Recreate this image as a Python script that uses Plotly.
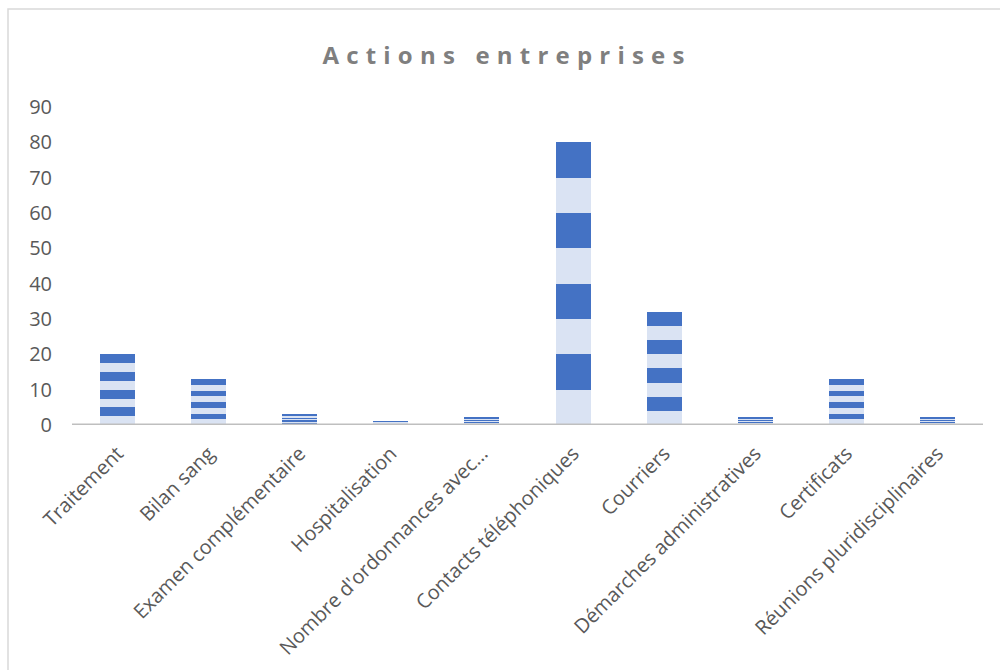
import plotly.graph_objects as go

categories = ["Traitement", "Bilan sang", "Examen complémentaire", "Hospitalisation",
              "Nombre d'ordonnances avec…", "Contacts téléphoniques", "Courriers",
              "Démarches administratives", "Certificats", "Réunions pluridisciplinaires"]
values = [20, 13, 3, 1, 2, 80, 32, 2, 13, 2]
title_text = "Actions entreprises"
y_ticks = [0, 10, 20, 30, 40, 50, 60, 70, 80, 90]

n_stripes = 8
light = "#DAE3F3"
dark = "#4472C4"

fig = go.Figure()
for k in range(n_stripes):
    fig.add_trace(go.Bar(
        x=categories,
        y=[v / n_stripes for v in values],
        marker=dict(color=light if k % 2 == 0 else dark, line=dict(width=0)),
        showlegend=False,
        hoverinfo="skip",
    ))

L, R, T, B = 72, 17, 107, 245
W, H = 1000, 670
pw = W - L - R
ph = H - T - B

def px_to_paper_x(px):
    return (px - L) / pw

def py_to_paper_y(py):
    return (H - B - py) / ph

fig.update_layout(
    width=W, height=H,
    margin=dict(l=L, r=R, t=T, b=B, pad=0, autoexpand=False),
    barmode="stack",
    bargap=0.615,
    plot_bgcolor="white",
    paper_bgcolor="white",
    font=dict(family="Open Sans", color="#595959"),
    title=dict(text="<b>" + title_text + "</b>", x=0.507, xanchor="center",
               y=1 - 56 / H, yanchor="middle", yref="container", xref="container",
               font=dict(family="Open Sans", size=24, color="#7F7F7F")),
    xaxis=dict(
        showgrid=False, zeroline=False, showline=False, automargin=False,
        tickangle=-45, tickfont=dict(size=20, color="#595959"),
        ticks="", ticklabelstandoff=12, fixedrange=True,
    ),
    yaxis=dict(
        range=[0, 90], tickvals=y_ticks, showgrid=False, zeroline=False,
        showline=False, ticks="", ticklabelstandoff=19, automargin=False,
        tickfont=dict(size=20, color="#595959"), fixedrange=True,
    ),
    shapes=[
        # x-axis baseline
        dict(type="line", xref="paper", yref="y", x0=0, x1=1, y0=0, y1=0,
             line=dict(color="#BFBFBF", width=3)),
        # chart border (only top and left edges fall inside the picture)
        dict(type="rect", xref="paper", yref="paper",
             x0=px_to_paper_x(8), x1=px_to_paper_x(1010),
             y0=py_to_paper_y(690), y1=py_to_paper_y(9),
             line=dict(color="#D9D9D9", width=1.5), fillcolor="rgba(0,0,0,0)",
             layer="below"),
    ],
)

post = """
document.body.style.margin = '0';
document.body.style.padding = '0';
var gd = document.getElementById('{plot_id}');
function ls(){ gd.querySelectorAll('.gtitle').forEach(function(t){ t.style.letterSpacing='7.2px'; }); }
ls();
gd.on && gd.on('plotly_afterplot', ls);
"""

fig.write_html("out.html", post_script=post, config={"displayModeBar": False})
